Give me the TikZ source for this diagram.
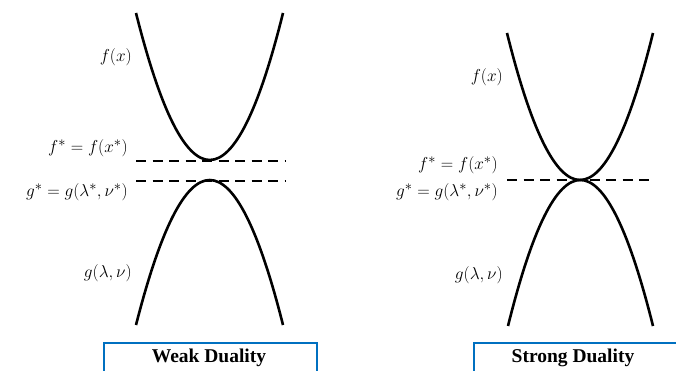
\documentclass[tikz,border=0pt]{standalone}
\usepackage{fontspec}
\setmainfont{Liberation Serif}
\definecolor{boxblue}{RGB}{0,112,192}
\begin{document}
\begin{tikzpicture}[x=1pt,y=-1pt,
  curve/.style={line width=2.6pt},
  dash line/.style={line width=2.8pt, dash pattern=on 10pt off 6.5pt},
  lbl/.style={anchor=east, inner sep=0pt, font=\fontsize{19}{22}\selectfont},
  titlebox/.style={draw=boxblue, line width=2pt, minimum height=40pt, anchor=north west, inner sep=0pt},
  ttl/.style={font=\fontsize{19.5}{22}\selectfont\bfseries}]
\useasboundingbox (0,0) rectangle (676,371);
% ---- weak duality ----
\coordinate (fa) at (136,13); \coordinate (fb) at (283,13);
\coordinate (ga) at (136,325); \coordinate (gb) at (283,325);
\draw[curve] (fa) .. controls (185.3,209) and (234.3,209) .. (fb);
\draw[curve] (ga) .. controls (185.3,131.7) and (234.3,131.7) .. (gb);
\coordinate (d1a) at (136,161); \coordinate (d1b) at (285,161);
\coordinate (d2a) at (136,181); \coordinate (d2b) at (285,181);
\draw[dash line] (d1a) -- (d1b);
\draw[dash line] (d2a) -- (d2b);
\node[lbl] (lf) at (132,57) {$f(x)$};
\node[lbl] (lfs) at (128,148) {$f^* = f(x^*)$};
\node[lbl] (lgs) at (128,192) {$g^* = g(\lambda^*,\nu^*)$};
\node[lbl] (lg) at (132,273) {$g(\lambda,\nu)$};
\node[titlebox, minimum width=213pt] (wb) at (103,342) {};
\node[ttl] (wt) at (209,358) {Weak Duality};
% ---- strong duality ----
\coordinate (sfa) at (507,33); \coordinate (sfb) at (653,33);
\coordinate (sga) at (508,326); \coordinate (sgb) at (653,326);
\draw[curve] (sfa) .. controls (555.7,229) and (604.3,229) .. (sfb);
\draw[curve] (sga) .. controls (556.3,131.3) and (604.3,131.3) .. (sgb);
\coordinate (sda) at (507,180); \coordinate (sdb) at (655,180);
\draw[dash line] (sda) -- (sdb);
\node[lbl] (rf) at (503,77) {$f(x)$};
\node[lbl] (rfs) at (498,165) {$f^* = f(x^*)$};
\node[lbl] (rgs) at (498,192) {$g^* = g(\lambda^*,\nu^*)$};
\node[lbl] (rg) at (503,275) {$g(\lambda,\nu)$};
\node[titlebox, minimum width=220pt] (sb) at (473,342) {};
\node[ttl] (st) at (573,358) {Strong Duality};
\end{tikzpicture}
\end{document}
